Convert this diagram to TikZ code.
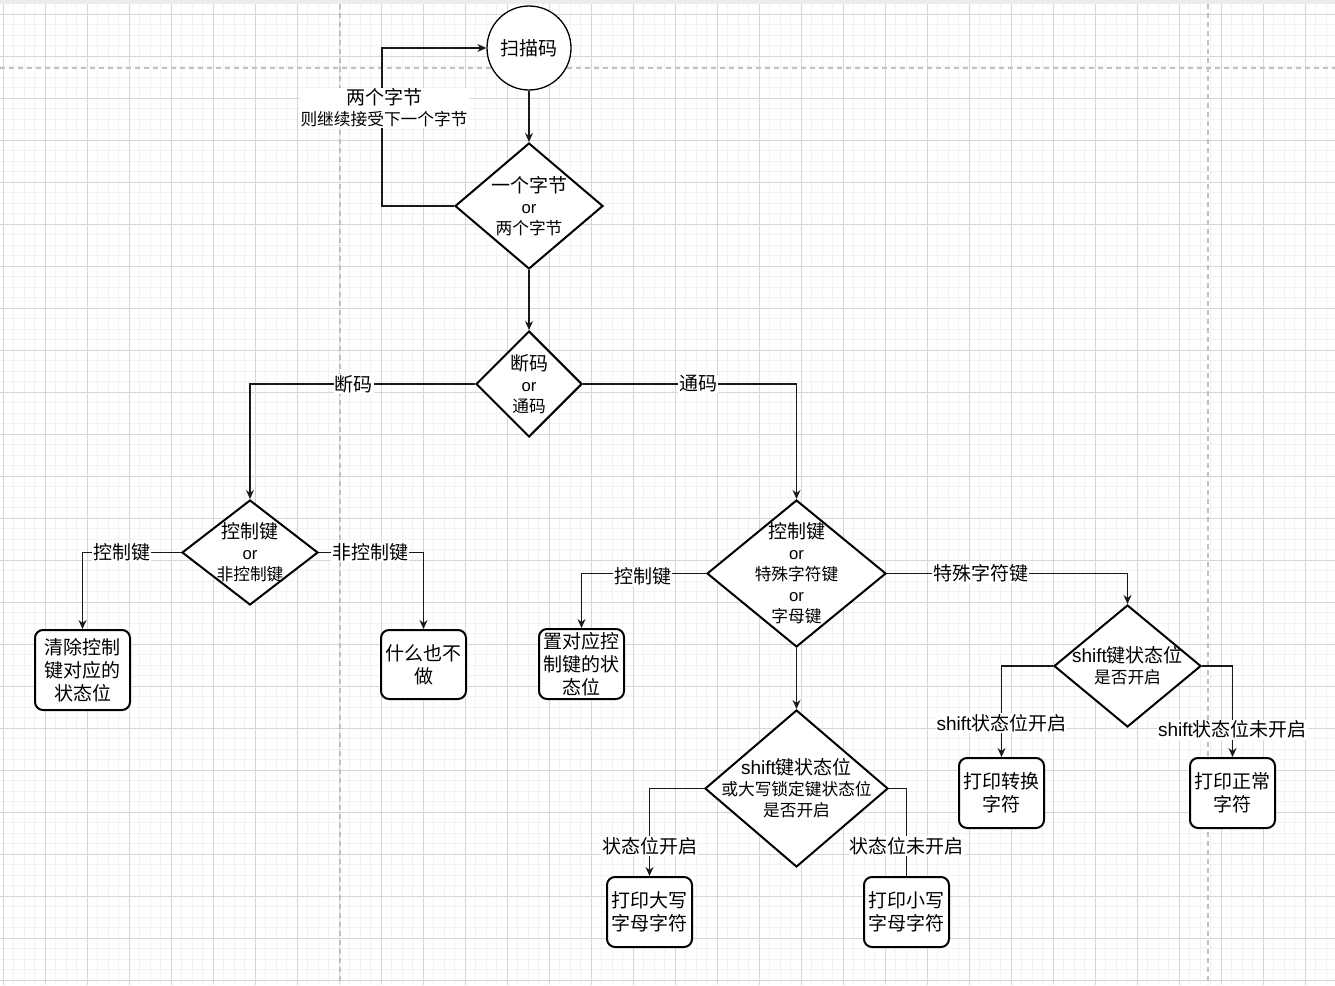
\documentclass[tikz,border=0pt]{standalone}
\usepackage{fontspec}
\setmainfont{Noto Sans CJK SC}
\newfontfamily\lat{Liberation Sans}
\usetikzlibrary{shapes.geometric,arrows.meta}
\newcommand{\fA}{\fontsize{19}{21}\selectfont}
\newcommand{\fB}{\fontsize{16.7}{21}\selectfont}
\newcommand{\orw}{{\lat or}}
\definecolor{gridminor}{HTML}{F2F2F2}
\definecolor{gridmajor}{HTML}{D6D6D6}
\definecolor{pagebreak}{HTML}{C0C0C0}
\tikzset{
  x=1pt, y=-1pt,
  dia/.style={diamond, draw=black, line width=2pt, fill=white, inner sep=0pt},
  dtxt/.style={align=center, font=\fB, inner sep=0pt},
  stepbox/.style={draw=black, line width=2pt, rounded corners=8pt, fill=white,
    align=center, font=\fontsize{19}{23}\selectfont, inner sep=0pt,
    minimum width=85pt, minimum height=70pt},
  conn/.style={line width=1.3pt, draw=black!90},
  arr/.style={conn, -{Stealth[length=9pt,width=8pt,inset=3pt]}},
  lbl/.style={fill=white, inner sep=1pt, font=\fA, text=black},
}
\begin{document}
\begin{tikzpicture}
\useasboundingbox (0,0) rectangle (1335,985);
% background grid
\fill[white] (0,0) rectangle (1335,985);
\foreach \i in {0,...,126} \draw[gridminor, line width=1pt] (3.3+\i*10.5,0) -- (3.3+\i*10.5,985);
\foreach \j in {0,...,93} \draw[gridminor, line width=1pt] (0,3.5+\j*10.5) -- (1335,3.5+\j*10.5);
\foreach \i in {0,...,31} \draw[gridmajor, line width=1pt] (3.3+\i*42,0) -- (3.3+\i*42,985);
\foreach \j in {0,...,23} \draw[gridmajor, line width=1pt] (0,14+\j*42) -- (1335,14+\j*42);
\draw[pagebreak, line width=1.2pt, dash pattern=on 5pt off 4pt] (0,68) -- (1335,68);
\draw[pagebreak, line width=1.2pt, dash pattern=on 5pt off 4pt] (340,4) -- (340,985);
\draw[pagebreak, line width=1.2pt, dash pattern=on 5pt off 4pt] (1208,4) -- (1208,985);
\fill[gray!15] (0,0) rectangle (1335,4);

% nodes
\node[circle, draw=black, line width=1.3pt, fill=white, minimum size=84pt, inner sep=0pt, font=\fA] (scan) at (529,48) {扫描码};

\node[dia, minimum width=148pt, minimum height=126pt] (d1) at (529,206) {};
\node[dtxt] at (d1.center) {{\fA 一个字节}\\ \orw\\ 两个字节};

\node[dia, minimum width=106pt, minimum height=106pt] (d2) at (529,384) {};
\node[dtxt] at (d2.center) {{\fA 断码}\\ \orw\\ 通码};

\node[dia, minimum width=136pt, minimum height=105pt] (d3) at (250,552.5) {};
\node[dtxt] at (d3.center) {{\fA 控制键}\\ \orw\\ 非控制键};

\node[dia, minimum width=179pt, minimum height=147pt] (d4) at (796.5,573.5) {};
\node[dtxt] at (d4.center) {{\fA 控制键}\\ \orw\\ 特殊字符键\\ \orw\\ 字母键};

\node[dia, minimum width=147pt, minimum height=122pt] (d5) at (1127.5,666) {};
\node[dtxt] at (d5.center) {{\fA {\lat shift}键状态位}\\ 是否开启};

\node[dia, minimum width=183pt, minimum height=157pt] (d6) at (796.5,788.5) {};
\node[dtxt] at (d6.center) {{\fA {\lat shift}键状态位}\\ 或大写锁定键状态位\\ 是否开启};

\node[stepbox, minimum width=95pt, minimum height=80pt] (b1) at (82.5,670) {清除控制\\键对应的\\状态位};
\node[stepbox, minimum height=69pt] (b2) at (423.5,664.5) {什么也不\\做};
\node[stepbox] (b3) at (581.5,664) {置对应控\\制键的状\\态位};
\node[stepbox] (b4) at (1001.5,793) {打印转换\\字符};
\node[stepbox] (b5) at (1232.5,793) {打印正常\\字符};
\node[stepbox] (b6) at (649.5,912) {打印大写\\字母字符};
\node[stepbox] (b7) at (906.5,912) {打印小写\\字母字符};

% connectors
\coordinate (k1) at (382,206);
\draw[arr] (scan.south) -- (d1.north);
\draw[arr] (d1.west) -- (k1) |- node[lbl, pos=0.31, font=\fB, align=center, xshift=2pt] {{\fA 两个字节}\\ 则继续接受下一个字节} (scan.west);
\draw[arr] (d1.south) -- (d2.north);
\draw[arr] (d2.west) -| node[lbl, pos=0.27] {断码} (d3.north);
\draw[arr] (d2.east) -| node[lbl, pos=0.27] {通码} (d4.north);
\draw[arr] (d3.west) -| node[lbl, pos=0.3] {控制键} (b1.north);
\draw[arr] (d3.east) -| node[lbl, pos=0.245] {非控制键} (b2.north);
\draw[arr] (d4.west) -| node[lbl, pos=0.255, yshift=-3pt] {控制键} (b3.north);
\draw[arr] (d4.east) -| node[lbl, pos=0.195] {特殊字符键} (d5.north);
\draw[arr] (d4.south) -- (d6.north);
\draw[arr] (d5.west) -| node[lbl, pos=0.815] {{\lat shift}状态位开启} (b4.north);
\draw[arr] (d5.east) -| node[lbl, pos=0.85] {{\lat shift}状态位未开启} (b5.north);
\draw[arr] (d6.west) -| node[lbl, pos=0.83] {状态位开启} (b6.north);
\draw[conn] (d6.east) -| node[lbl, pos=0.83] {状态位未开启} (b7.north);
\end{tikzpicture}
\end{document}
